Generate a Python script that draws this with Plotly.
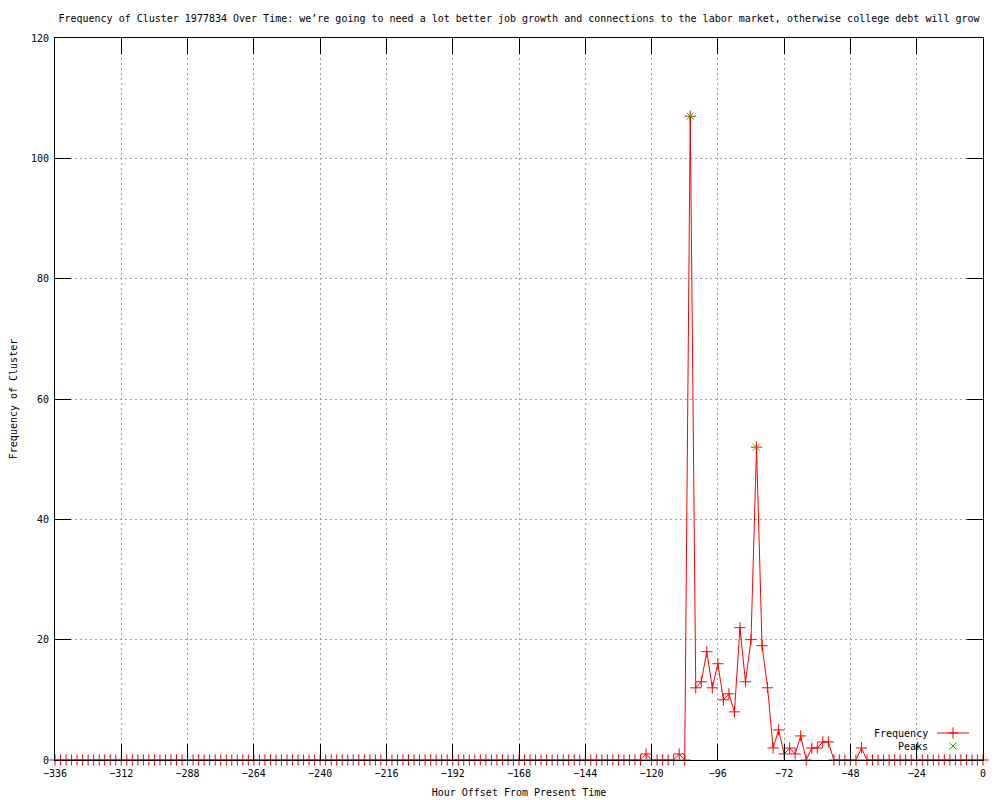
import plotly.graph_objects as go

# hour offsets, one point every 2 hours
hours = list(range(-336, 1, 2))

# frequency per 2-hour bin (12 bins = 24 hours per row)
frequency = [
    0, 0, 0, 0, 0, 0, 0, 0, 0, 0, 0, 0,        # -336 .. -314
    0, 0, 0, 0, 0, 0, 0, 0, 0, 0, 0, 0,        # -312 .. -290
    0, 0, 0, 0, 0, 0, 0, 0, 0, 0, 0, 0,        # -288 .. -266
    0, 0, 0, 0, 0, 0, 0, 0, 0, 0, 0, 0,        # -264 .. -242
    0, 0, 0, 0, 0, 0, 0, 0, 0, 0, 0, 0,        # -240 .. -218
    0, 0, 0, 0, 0, 0, 0, 0, 0, 0, 0, 0,        # -216 .. -194
    0, 0, 0, 0, 0, 0, 0, 0, 0, 0, 0, 0,        # -192 .. -170
    0, 0, 0, 0, 0, 0, 0, 0, 0, 0, 0, 0,        # -168 .. -146
    0, 0, 0, 0, 0, 0, 0, 0, 0, 0, 0, 1,        # -144 .. -122
    0, 0, 0, 0, 0, 1, 0, 107, 12, 13, 18, 12,  # -120 .. -98
    16, 10, 11, 8, 22, 13, 20, 52, 19, 12, 2, 5,  # -96 .. -74
    1, 2, 1, 4, 0, 2, 2, 3, 3, 0, 0, 0,        # -72 .. -50
    0, 0, 2, 0, 0, 0, 0, 0, 0, 0, 0, 0,        # -48 .. -26
    0, 0, 0, 0, 0, 0, 0, 0, 0, 0, 0, 0,        # -24 .. -2
    0,                                         # 0
]

peak_hours = [-106, -82]
peak_values = [107, 52]

title = ("Frequency of Cluster 1977834 Over Time: we\u2019re going to need a lot better "
         "job growth and connections to the labor market, otherwise college debt will grow")

FONT = "DejaVu Sans Mono"
RED = "#ff0000"
GREEN = "#00c000"

plus_marker = dict(symbol="cross-thin-open", size=8, color=RED, line=dict(color=RED, width=1))
x_marker = dict(symbol="x-thin-open", size=7, color=GREEN, line=dict(color=GREEN, width=1))

fig = go.Figure()

fig.add_trace(go.Scatter(
    x=hours, y=frequency, mode="lines+markers", name="Frequency",
    line=dict(color=RED, width=1), marker=plus_marker,
    cliponaxis=False, showlegend=False,
))
fig.add_trace(go.Scatter(
    x=peak_hours, y=peak_values, mode="markers", name="Peaks",
    marker=x_marker, cliponaxis=False, showlegend=False,
))

# gnuplot-style key (text left of the sample), drawn on a pixel overlay axis
fig.add_trace(go.Scatter(
    x=[937, 969], y=[733, 733], mode="lines", line=dict(color=RED, width=1),
    xaxis="x2", yaxis="y2", showlegend=False, hoverinfo="skip",
))
fig.add_trace(go.Scatter(
    x=[953], y=[733], mode="markers", marker=plus_marker,
    xaxis="x2", yaxis="y2", showlegend=False, hoverinfo="skip",
))
fig.add_trace(go.Scatter(
    x=[953], y=[746], mode="markers", marker=x_marker,
    xaxis="x2", yaxis="y2", showlegend=False, hoverinfo="skip",
))
for label, ypos in [("Frequency", 733), ("Peaks", 746)]:
    fig.add_annotation(
        text=label, x=930, y=ypos, xref="x2", yref="y2",
        xanchor="right", yanchor="middle", showarrow=False,
        font=dict(family=FONT, size=10, color="black"),
    )

axis_common = dict(
    showline=True, linecolor="black", linewidth=1, mirror="ticks",
    ticks="inside", tickcolor="black", ticklen=16, tickwidth=1,
    showgrid=True, gridcolor="#a0a0a0", gridwidth=1, griddash="2px,3px",
    zeroline=False, layer="above traces", automargin=False,
    tickfont=dict(family=FONT, size=10, color="black"),
)

# page body adds 8px offset, so the figure is 992x792 with margins shifted by 8
fig.update_layout(
    width=992, height=792,
    margin=dict(l=47, r=17, t=30, b=40),
    paper_bgcolor="white", plot_bgcolor="white",
    font=dict(family=FONT, size=10, color="black"),
    title=dict(text=title, x=0.5, xref="paper", y=1 - 10 / 792, yref="container",
               yanchor="middle", automargin=False,
               font=dict(family=FONT, size=10, color="black")),
    xaxis=dict(range=[-336, 0], tick0=0, dtick=24, ticklabelstandoff=4,
               title=dict(text="Hour Offset From Present Time", standoff=10,
                          font=dict(family=FONT, size=10)),
               **axis_common),
    yaxis=dict(range=[0, 120], tick0=0, dtick=20, ticklabelstandoff=3,
               title=dict(text="Frequency of Cluster", standoff=12,
                          font=dict(family=FONT, size=10)),
               **axis_common),
    xaxis2=dict(range=[55, 983], overlaying="x", visible=False),
    yaxis2=dict(range=[760, 38], overlaying="y", visible=False),
)

fig.write_html("out.html")
